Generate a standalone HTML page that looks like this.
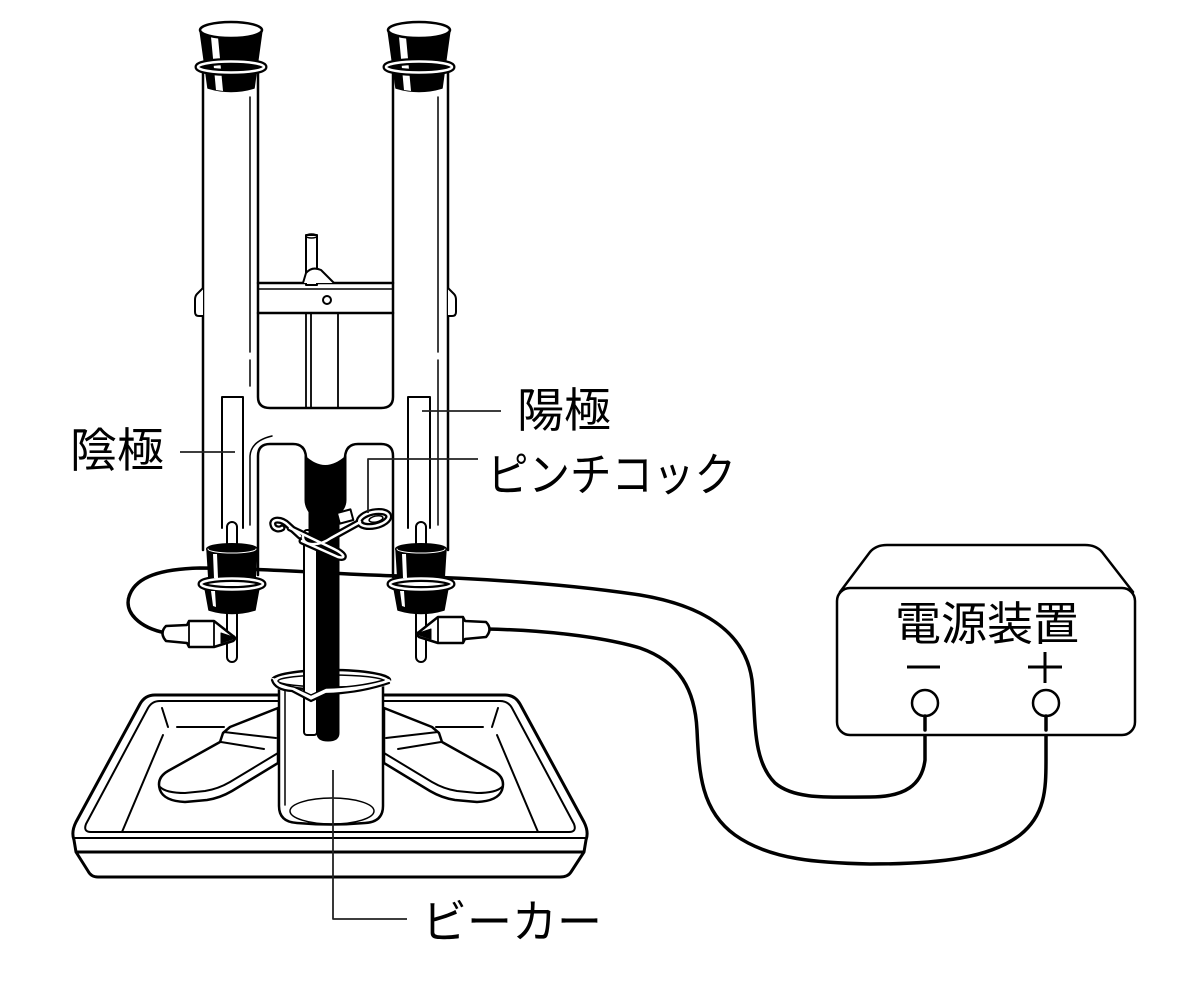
<!DOCTYPE html>
<html><head><meta charset="utf-8">
<style>html,body{margin:0;padding:0;background:#fff}svg{display:block}
text{font-family:"Liberation Sans","Noto Sans CJK JP",sans-serif;fill:#000;stroke:none}</style></head>
<body>
<svg width="1200" height="986" viewBox="0 0 1200 986" xmlns="http://www.w3.org/2000/svg" fill="none" stroke="#000" stroke-linecap="round" stroke-linejoin="round">
<defs>
<g id="foot">
<path d="M278,708 L230,727 L223,733 L220,742 L168,771 Q156,778 160,790 Q164,801 185,802 L207,800 Q220,798 232,791 L278,763 Z" fill="#fff" stroke-width="2.5"/>
<path d="M160,787 Q166,793 185,793 L205,791 Q218,789 230,782 L278,753" stroke-width="2"/>
<path d="M224,732 L276,738 M221,742 L264,749" stroke-width="2"/>
</g>
<g id="clipL">
<path d="M166,626 Q159,633 166,641 L187,643 L189,647 L214,647 L233,641 Q237,638 233,636 L214,621 L189,621 L187,625 Z" fill="#fff" stroke-width="2.5"/>
<path d="M189,622 L189,646 M214,622 L214,646" stroke-width="1.8"/>
<path d="M221,633 L236,638 L221,643 Z" fill="#000" stroke-width="1"/>
</g>
<g id="stL">
<rect x="227" y="522" width="10" height="32" rx="5" fill="#fff" stroke-width="2"/>
<rect x="227" y="600" width="10" height="62" rx="5" fill="#fff" stroke-width="2"/>
<path d="M207,549 L209,581 L255,581 L257,549 Z" fill="#000" stroke-width="1.5"/>
<ellipse cx="232" cy="549" rx="25" ry="5" fill="#000" stroke-width="2"/>
<path d="M208,549 A24,4 0 0 0 256,549" stroke="#fff" stroke-width="1"/>
<path d="M205,588 L259,588 L255,610 Q232,617 209,610 Z" fill="#000" stroke-width="1.5"/>
<ellipse cx="232" cy="584" rx="31" ry="5.5" stroke="#000" stroke-width="7"/>
<ellipse cx="232" cy="584" rx="31" ry="5.5" stroke="#fff" stroke-width="2.5"/>
<path d="M213,554 L217,554 L218,578 L214,578Z M211,591 L215,591 L216,607 L213,606Z" fill="#fff" stroke="none"/>
</g>
<g id="topL">
<path d="M200,30 L262,30 L254,88 Q231,95 208,88 Z" fill="#000" stroke-width="1.5"/>
<path d="M211,37 L218,37 L223,91 L216,90 Z" fill="#fff" stroke="none"/>
<ellipse cx="231" cy="67" rx="33" ry="5.5" stroke="#000" stroke-width="7"/>
<ellipse cx="231" cy="67" rx="33" ry="5.5" stroke="#fff" stroke-width="2.5"/>
<ellipse cx="231" cy="30" rx="31" ry="8" fill="#fff" stroke-width="2.5"/>
</g>
</defs>

<!-- tray -->
<path d="M155,695 L505,695 Q515,695 520,704 L584,822 Q589,832 586,840 L584,852 L571,872 Q568,877 560,877 L98,877 Q91,877 88,871 L76,852 L74,840 Q71,832 76,822 L140,704 Q145,695 155,695 Z" fill="#fff" stroke-width="3"/>
<path d="M160,701 L500,701 Q508,701 512,708 L574,824 Q577,832 569,832 L91,832 Q83,832 86,824 L148,708 Q152,701 160,701 Z" stroke-width="2"/>
<path d="M75,838 L585,838" stroke-width="2"/>
<path d="M77,852 L583,852" stroke-width="3"/>
<path d="M163,735 L122,832 M162,708 L168,727 M177,727 L224,727 M497,735 L538,832 M498,708 L492,727 M483,727 L436,727" stroke-width="2"/>

<!-- feet -->
<use href="#foot"/>
<use href="#foot" transform="translate(662,0) scale(-1,1)"/>

<!-- wires -->
<path d="M166,633 C140,628 122,612 130,594 C137,577 160,569 200,568 C260,568 330,574 400,576 C470,578 560,583 640,595 C700,605 745,630 752,680 C756,720 752,760 775,783 C795,800 830,797 870,797 C905,797 922,785 925,760 L925,716" stroke-width="3.5"/>
<path d="M486,629 C540,630 600,636 640,648 C680,662 695,690 697,730 C699,770 700,810 735,835 C770,860 820,863 870,864 C940,864 990,858 1020,835 C1045,815 1046,790 1046,760 L1046,716" stroke-width="3.5"/>

<!-- tubes -->
<path d="M203,72 V550 M448,72 V550" stroke-width="2.5"/>
<path d="M258,72 V397 Q258,408 270,408 H381 Q393,408 393,397 V72" stroke-width="2.5"/>
<path d="M250,97 V352 M250,360 V386 M438,97 V352 M438,360 V525" stroke-width="1.5"/>
<path d="M250,525 V456 Q251,441 272,436" stroke-width="1.5"/>

<!-- crossbar -->
<path d="M258,283 H393 M258,313 H393" stroke-width="2.5"/>
<path d="M258,289 H393" stroke-width="1.5"/>
<circle cx="327" cy="300" r="4" stroke-width="2"/>
<path d="M306,313 V408 M311,313 V408 M338,313 V408" stroke-width="1.8"/>
<rect x="306" y="235" width="11" height="50" fill="#fff" stroke-width="2"/>
<ellipse cx="311.5" cy="236" rx="5.5" ry="2" stroke-width="1.5"/>
<path d="M303,283 L306,273 Q312,266 321,270 L334,283" fill="#fff" stroke-width="2"/>
<path d="M203,288 L197,294 Q195,296 195,300 L195,312 Q195,316 199,316 L203,316" fill="#fff" stroke-width="2"/>
<path d="M448,288 L454,294 Q456,296 456,300 L456,312 Q456,316 452,316 L448,316" fill="#fff" stroke-width="2"/>

<!-- U connector -->
<path d="M258,575 V456 Q258,444 270,444 H293 Q305,444 306,457" stroke-width="2.5"/>
<path d="M345,457 Q346,444 358,444 H381 Q393,444 393,456 V577" stroke-width="2.5"/>

<!-- electrodes -->
<path d="M222,528 V397 H243 V528 M408,528 V397 H430 V528" stroke-width="2"/>

<!-- top stoppers -->
<use href="#topL"/>
<use href="#topL" transform="translate(188,0)"/>

<!-- beaker back -->
<path d="M279,682 V806 Q279,822 297,823 Q331,826 365,823 Q383,822 383,806 V682" fill="#fff" stroke-width="2.5"/>
<ellipse cx="331" cy="680" rx="59" ry="10" fill="#fff" stroke-width="2.5"/>
<ellipse cx="331" cy="681" rx="53" ry="6" stroke-width="1.5"/>
<path d="M285,690 V805" stroke-width="1.5"/>
<ellipse cx="332" cy="811" rx="42" ry="13" stroke-width="1.5"/>

<!-- glass rod and rubber tube -->
<rect x="304" y="530" width="13" height="205" rx="3" fill="#fff" stroke-width="2"/>
<path d="M305,456 Q325,475 346,456 L346,500 Q346,508 339,514 L339,733 Q339,741 328,741 Q317,741 317,733 L317,548 L309,540 L309,512 Q305,506 305,500 Z" fill="#000" stroke-width="1"/>

<!-- beaker front rim -->
<path d="M273,681 Q276,688 292,689 L311,698 L326,691 Q360,690 388,682" stroke="#fff" stroke-width="6"/>
<path d="M272,680 Q275,690 292,691 L311,701 L326,694 Q360,693 389,683" stroke-width="2.2"/>
<path d="M280,683 Q288,686 294,687 L311,695 L326,688 Q360,687 384,680" stroke-width="1.5"/>

<!-- pinch cock -->
<g stroke="#000" stroke-width="7">
<path d="M300,536 L288,525 C281,518 271,519 273,525 C274,529 279,530 282,528"/>
<path d="M290,528 L334,549 C344,554 347,559 338,557 L302,541"/>
<path d="M303,536 C302,546 318,547 331,538 L360,522"/>
<ellipse cx="374" cy="519" rx="15" ry="7" transform="rotate(-12 374 519)"/>
</g>
<g stroke="#fff" stroke-width="2.5">
<path d="M300,536 L288,525 C281,518 271,519 273,525 C274,529 279,530 282,528"/>
<path d="M290,528 L334,549 C344,554 347,559 338,557 L302,541"/>
<path d="M303,536 C302,546 318,547 331,538 L360,522"/>
<ellipse cx="374" cy="519" rx="15" ry="7" transform="rotate(-12 374 519)"/>
</g>
<ellipse cx="376" cy="519" rx="7" ry="3" stroke-width="1.5" transform="rotate(-12 376 519)"/>
<rect x="338" y="511" width="14" height="11" fill="#fff" stroke-width="2" transform="rotate(-15 345 516)"/>

<!-- lower stoppers -->
<use href="#stL"/>
<use href="#stL" transform="translate(189,0)"/>

<!-- clips -->
<use href="#clipL"/>
<use href="#clipL" transform="translate(652,-4) scale(-1,1)"/>

<!-- power supply -->
<path d="M840,592 L870,552 Q876,545 887,545 H1085 Q1096,545 1102,552 L1133,592" stroke-width="2.5"/>
<rect x="837" y="588" width="298" height="147" rx="13" fill="#fff" stroke-width="2.5"/>
<path d="M907,667 H940 M1028,667 H1062 M1045,652 V683" stroke-width="3" stroke-linecap="butt"/>
<circle cx="925" cy="703" r="13" fill="#fff" stroke-width="2.5"/>
<circle cx="1046" cy="703" r="13" fill="#fff" stroke-width="2.5"/>
<path d="M925,716 V730 M1046,716 V730" stroke-width="3.5"/>

<!-- leaders -->
<g stroke="#222" stroke-width="1.8" stroke-linecap="butt">
<path d="M180,452 H235"/>
<path d="M422,411 H501"/>
<path d="M478,459 H368 V513"/>
<path d="M333,770 V919 H407"/>
</g>

<!-- labels -->
<text x="70" y="467" font-size="47">陰極</text>
<text x="517" y="427" font-size="47">陽極</text>
<text x="487" y="491" font-size="46" textLength="249" lengthAdjust="spacingAndGlyphs">ピンチコック</text>
<text x="422" y="938" font-size="46" textLength="180" lengthAdjust="spacingAndGlyphs">ビーカー</text>
<text x="895" y="640" font-size="46">電源装置</text>
</svg>
</body></html>
